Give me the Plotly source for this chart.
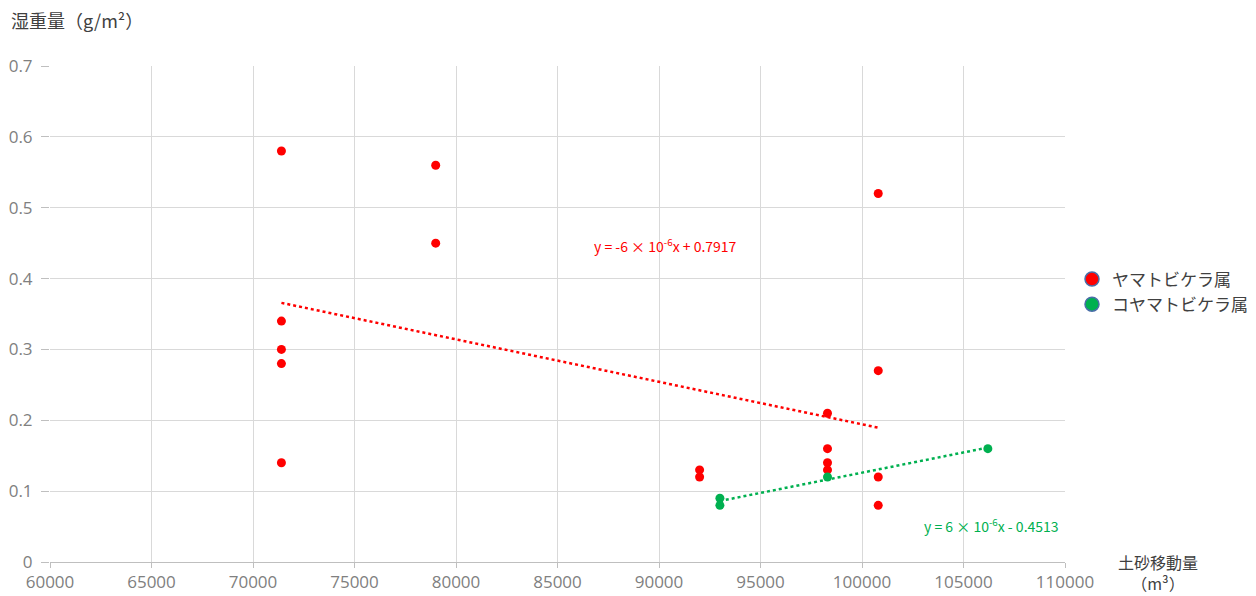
import numpy as np
import plotly.graph_objects as go

# Data
red_x = [71400, 71400, 71400, 71400, 71400, 79000, 79000, 92000, 92000,
         98300, 98300, 98300, 98300, 100800, 100800, 100800, 100800]
red_y = [0.58, 0.34, 0.30, 0.28, 0.14, 0.56, 0.45, 0.13, 0.12,
         0.21, 0.16, 0.14, 0.13, 0.52, 0.27, 0.12, 0.08]
green_x = [93000, 93000, 98300, 106200]
green_y = [0.09, 0.08, 0.12, 0.16]
series_names = ["ヤマトビケラ属", "コヤマトビケラ属"]
red_eq = "y = -6 × 10<sup>-6</sup>x + 0.7917"
green_eq = "y = 6 × 10<sup>-6</sup>x - 0.4513"
x_ticks = list(range(60000, 110001, 5000))
y_ticks = [0, 0.1, 0.2, 0.3, 0.4, 0.5, 0.6, 0.7]

RED = "#ff0000"
GREEN = "#00b050"
FONT = "Noto Sans CJK JP"
TICKFONT = "Open Sans"
TICKCOL = "#808080"

# page has an 8px body margin; figure drawn at offset (8, 8)
OFF = 8
W, H = 1256 - OFF, 596 - OFF
L, T = 50 - OFF, 66 - OFF
R = W - (1065 - OFF)
B = H - (562 - OFF)
pw, ph = W - L - R, H - T - B


def px(xp):
    return (xp - OFF - L) / pw


def py(yp):
    return (H - B - (yp - OFF)) / ph


fig = go.Figure()


def trend(xs, ys):
    k, b = np.polyfit(xs, ys, 1)
    x0, x1 = min(xs), max(xs)
    return [x0, x1], [k * x0 + b, k * x1 + b]


tx, ty = trend(red_x, red_y)
fig.add_trace(go.Scatter(x=tx, y=ty, mode="lines", showlegend=False,
                         line=dict(color=RED, width=2.5, dash="dot")))
tx, ty = trend(green_x, green_y)
fig.add_trace(go.Scatter(x=tx, y=ty, mode="lines", showlegend=False,
                         line=dict(color=GREEN, width=2.5, dash="dot")))

fig.add_trace(go.Scatter(x=red_x, y=red_y, mode="markers", showlegend=False,
                         marker=dict(color=RED, size=9)))
fig.add_trace(go.Scatter(x=green_x, y=green_y, mode="markers", showlegend=False,
                         marker=dict(color=GREEN, size=9)))

# legend entries
for name, col in zip(series_names, [RED, GREEN]):
    fig.add_trace(go.Scatter(x=[None], y=[None], mode="markers", name=name,
                             marker=dict(color=col, size=14,
                                         line=dict(color="#4a6ea8", width=1.5))))

fig.add_annotation(x=90300, y=0.447, xref="x", yref="y", text=red_eq,
                   showarrow=False, font=dict(color=RED, size=14, family=FONT))
fig.add_annotation(x=106400, y=0.052, xref="x", yref="y", text=green_eq,
                   showarrow=False, font=dict(color=GREEN, size=14, family=FONT))

fig.add_annotation(x=px(9), y=py(20), xref="paper", yref="paper",
                   xanchor="left", yanchor="middle",
                   text="湿重量（g/m²）", showarrow=False,
                   font=dict(color="#404040", size=18, family=FONT))
fig.add_annotation(x=px(1158), y=py(572), xref="paper", yref="paper",
                   xanchor="center", yanchor="middle", align="center",
                   text="土砂移動量<br>（m³）", showarrow=False,
                   font=dict(color="#404040", size=16, family=FONT))

fig.update_layout(
    width=W, height=H,
    margin=dict(l=L, r=R, t=T, b=B, autoexpand=False),
    plot_bgcolor="white", paper_bgcolor="white",
    font=dict(family=FONT, color="#595959", size=15),
    legend=dict(x=px(1072), y=py(292), xanchor="left", yanchor="middle",
                font=dict(size=17, color="#404040", family=FONT),
                itemsizing="trace", tracegroupgap=0, bgcolor="rgba(0,0,0,0)"),
    showlegend=True,
)
fig.update_xaxes(range=[60000, 110000], tickvals=x_ticks, ticktext=[str(v) for v in x_ticks],
                 showgrid=True, gridcolor="#d9d9d9", gridwidth=1,
                 zeroline=False, showline=True, linecolor="#bfbfbf",
                 ticks="outside", ticklen=5, tickcolor="#bfbfbf",
                 tickfont=dict(size=17, color=TICKCOL, family=TICKFONT))
fig.update_yaxes(range=[0, 0.7], tickvals=y_ticks, ticktext=[f"{v:g}" for v in y_ticks],
                 showgrid=True, gridcolor="#d9d9d9", gridwidth=1,
                 zeroline=False, showline=False,
                 ticks="outside", ticklen=8, tickcolor="#bfbfbf",
                 ticklabelstandoff=5,
                 tickfont=dict(size=17, color=TICKCOL, family=TICKFONT))

fig.write_html("out.html")
